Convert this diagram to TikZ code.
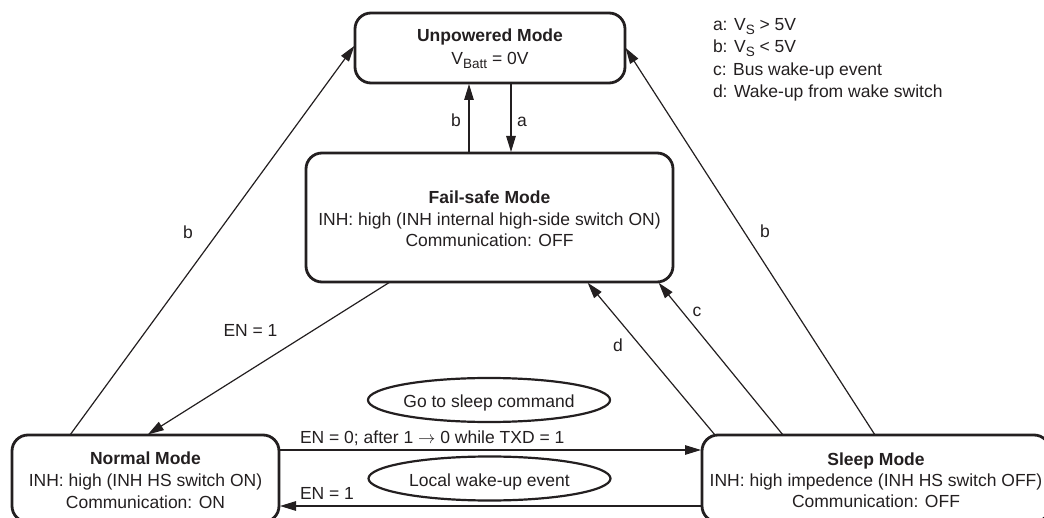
\documentclass[tikz,border=0pt]{standalone}
\usepackage{fontspec}
\setmainfont{Liberation Sans}
\usetikzlibrary{arrows.meta,shapes.geometric}
\definecolor{ink}{HTML}{231F20}
\newcommand{\lowsub}[1]{\raisebox{-3.5pt}{\fontsize{13.5}{13.5}\selectfont #1}}
\begin{document}
\begin{tikzpicture}[x=1pt,y=-1pt,
  every node/.style={font=\fontsize{17.5}{21}\selectfont, text=ink, inner sep=0pt, outer sep=0pt},
  modebox/.style={draw=ink, line width=2.8pt, rounded corners=16pt},
  pill/.style={ellipse, draw=ink, line width=2.2pt, minimum width=242pt, minimum height=44pt, text height=15pt, text depth=0pt},
  txt/.style={anchor=base},
  arr/.style={draw=ink, line width=1.2pt, -{Triangle[length=16pt,width=9.5pt]}, shorten >=1pt}]
\useasboundingbox (0,0) rectangle (1044,518);

% boxes
\node[modebox, minimum width=270pt, minimum height=70pt] (unp) at (490,48) {};
\node[modebox, minimum width=367pt, minimum height=129pt] (fs) at (489.5,217.5) {};
\node[modebox, minimum width=267pt, minimum height=87pt] (nm) at (145.5,478.5) {};
\node[modebox, minimum width=348pt, minimum height=87pt] (sl) at (876,478.5) {};

% box texts
\node[txt] (unp1) at (490,42) {\textbf{Unpowered Mode}};
\node[txt] (unp2) at (490,65) {V\lowsub{Batt} = 0V};
\node[txt] (fs1) at (489.5,204) {\textbf{Fail-safe Mode}};
\node[txt] (fs2) at (489.5,226) {INH: high (INH internal high-side switch ON)};
\node[txt] (fs3) at (489.5,247) {Communication: OFF};
\node[txt] (nm1) at (145.5,464) {\textbf{Normal Mode}};
\node[txt] (nm2) at (145.5,486) {INH: high (INH HS switch ON)};
\node[txt] (nm3) at (145.5,508) {Communication: ON};
\node[txt] (sl1) at (876,465) {\textbf{Sleep Mode}};
\node[txt] (sl2) at (876,486) {INH: high impedence (INH HS switch OFF)};
\node[txt] (sl3) at (876,507) {Communication: OFF};

% legend
\node[anchor=base west] (lga) at (713,31) {a: V\lowsub{S} > 5V};
\node[anchor=base west] (lgb) at (713,53) {b: V\lowsub{S} < 5V};
\node[anchor=base west] (lgc) at (713,76) {c: Bus wake-up event};
\node[anchor=base west] (lgd) at (713,98) {d: Wake-up from wake switch};

% ellipses
\node[pill] (gts) at (489,400) {Go to sleep command};
\node[pill] (lwe) at (489.5,478.5) {Local wake-up event};

% connectors
\draw[arr] ([xshift=-20.5pt]fs.north) -- ([xshift=-21pt]unp.south);
\draw[arr] ([xshift=21pt]unp.south) -- ([xshift=21.5pt]fs.north);
\draw[arr] ([xshift=-75.5pt]nm.north) -- ([yshift=3pt]unp.west);
\draw[arr] ([xshift=-1pt]sl.north) -- ([yshift=1pt]unp.east);
\draw[arr] ([xshift=-99.5pt]fs.south) -- ([xshift=1.5pt]nm.north);
\draw[arr] ([xshift=-161pt]sl.north) -- ([xshift=97.5pt]fs.south);
\draw[arr] ([xshift=-93pt]sl.north) -- ([xshift=168.5pt]fs.south);
\draw[arr] ([yshift=28.5pt]nm.east) -- ([yshift=28.5pt]sl.west);
\draw[arr] ([yshift=-27.5pt]sl.west) -- ([yshift=-27.5pt]nm.east);

% connector labels
\node[txt] (lb1) at (456,127) {b};
\node[txt] (la1) at (522,127) {a};
\node[txt] (lb2) at (188,239) {b};
\node[txt] (lb3) at (765,238) {b};
\node[txt] (lc) at (697,317) {c};
\node[txt] (ld) at (618,352) {d};
\node[txt] (len1) at (250.5,337) {EN = 1};
\node[anchor=base west] (len0) at (300,443) {EN = 0; after 1 \ensuremath{\rightarrow} 0 while TXD = 1};
\node[anchor=base west] (len2) at (300,499) {EN = 1};
\end{tikzpicture}
\end{document}
